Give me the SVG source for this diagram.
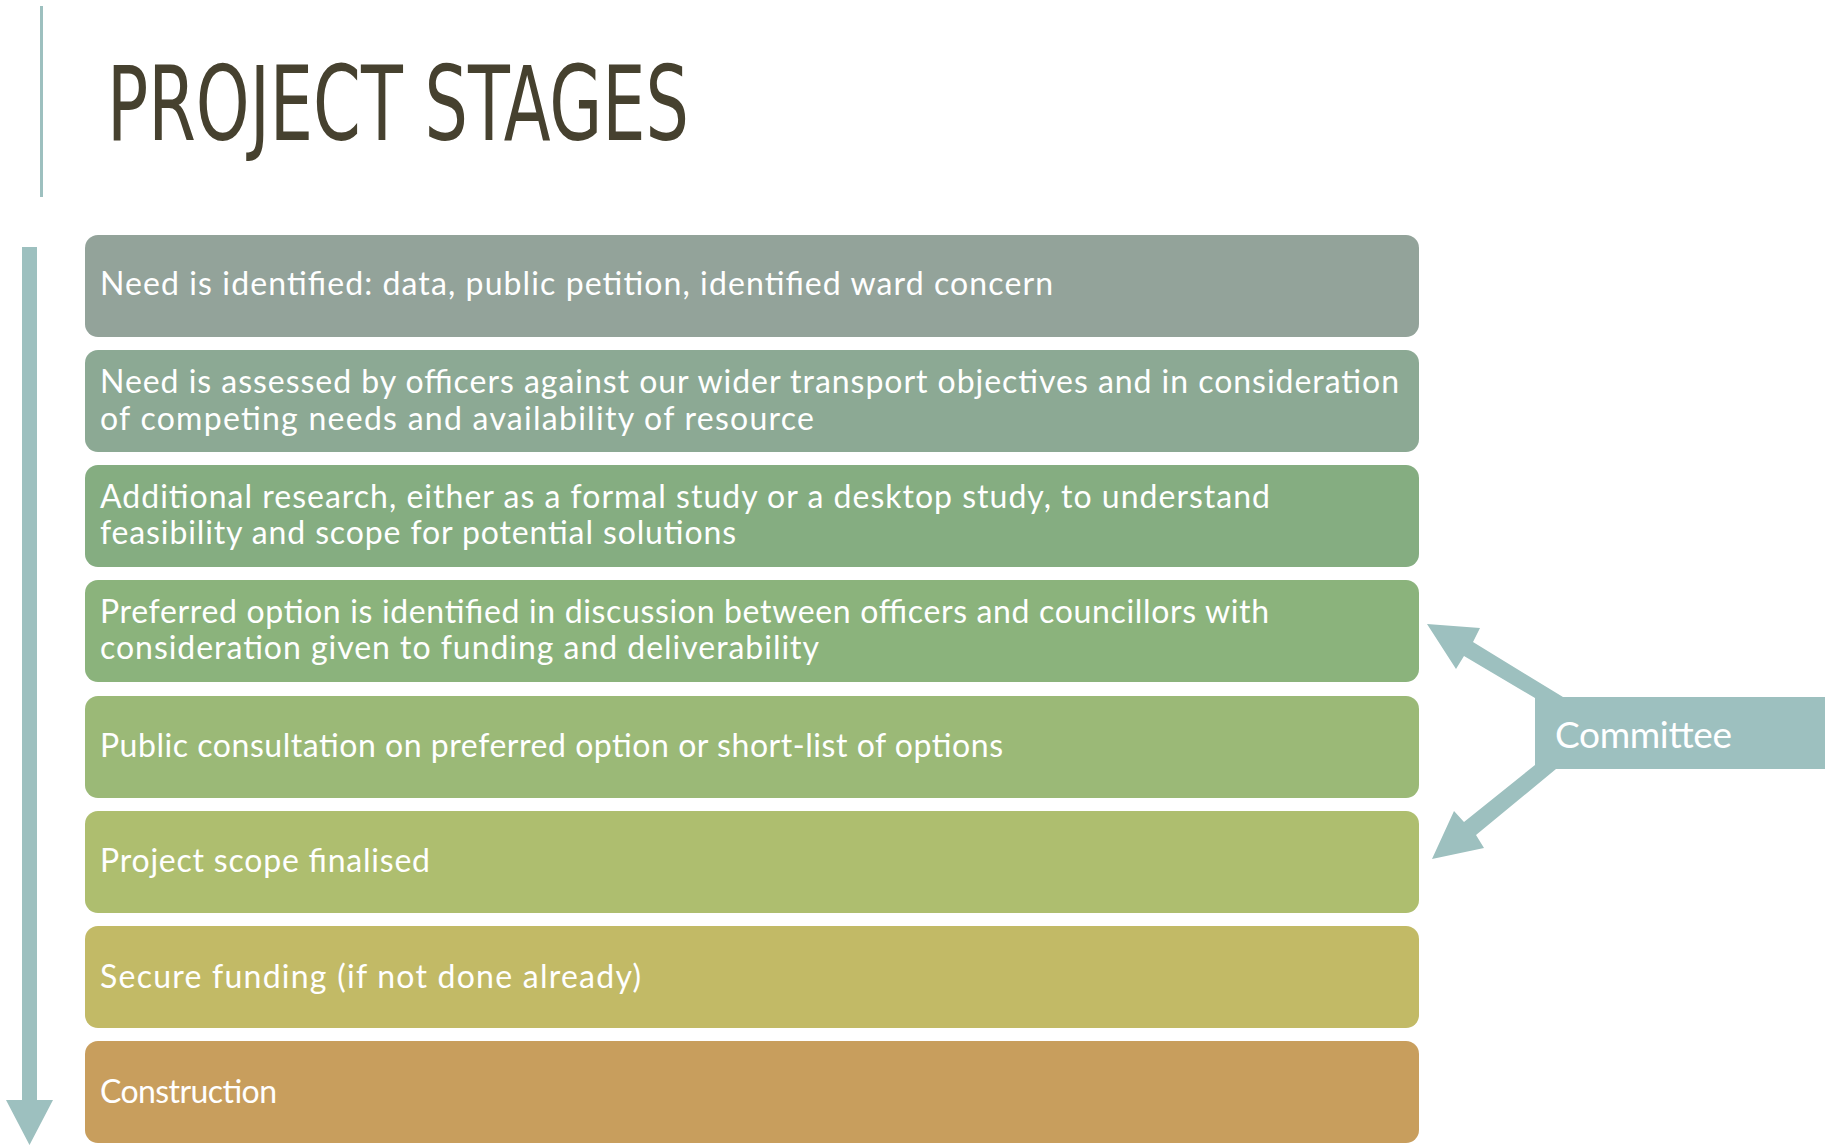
<svg xmlns="http://www.w3.org/2000/svg" width="1825" height="1145" viewBox="0 0 1825 1145">
<style>
.t{font-family:Lato,"Open Sans","Liberation Sans",sans-serif;font-size:32px;fill:#ffffff}
</style>
<rect width="1825" height="1145" fill="#ffffff"/>
<rect x="40" y="6" width="3" height="191" fill="#9DC0BF"/>
<text x="107" y="140" font-family="'DejaVu Sans Condensed','Liberation Sans Narrow','Liberation Sans',sans-serif" font-size="104" fill="#46412F" textLength="582" lengthAdjust="spacingAndGlyphs">PROJECT STAGES</text>
<g id="connectors">
<path d="M22,247 H37 V1100 H53 L29.5,1145 L6,1100 H22 Z" fill="#9DC0BF"/>
</g>
<g id="committee">
<polygon points="1563,697 1825,697 1825,769 1556,769 1476,835 1484,848 1432,859 1454,811 1464,822 1535,765 1535,698 1464,656 1456,669 1427,624 1480,628 1473,642" fill="#9DC0BF"/>
<text x="1555" y="748" font-family="Lato,'Open Sans','Liberation Sans',sans-serif" font-size="37" fill="#ffffff" textLength="177">Committee</text>
</g>
<g id="s1"><rect x="85" y="235" width="1334" height="102" rx="13" fill="#93A39A"/>
<text class="t" x="100" y="295" textLength="953">Need is identified: data, public petition, identified ward concern</text></g>
<g id="s2"><rect x="85" y="350" width="1334" height="102" rx="13" fill="#8CA994"/>
<text class="t" x="100" y="393" textLength="1299">Need is assessed by officers against our wider transport objectives and in consideration</text>
<text class="t" x="100" y="430" textLength="714">of competing needs and availability of resource</text></g>
<g id="s3"><rect x="85" y="465" width="1334" height="102" rx="13" fill="#85AD81"/>
<text class="t" x="100" y="508" textLength="1170">Additional research, either as a formal study or a desktop study, to understand</text>
<text class="t" x="100" y="544" textLength="636">feasibility and scope for potential solutions</text></g>
<g id="s4"><rect x="85" y="580" width="1334" height="102" rx="13" fill="#8BB37C"/>
<text class="t" x="100" y="623" textLength="1169">Preferred option is identified in discussion between officers and councillors with</text>
<text class="t" x="100" y="659" textLength="719">consideration given to funding and deliverability</text></g>
<g id="s5"><rect x="85" y="696" width="1334" height="102" rx="13" fill="#9BB977"/>
<text class="t" x="100" y="757" textLength="903">Public consultation on preferred option or short-list of options</text></g>
<g id="s6"><rect x="85" y="811" width="1334" height="102" rx="13" fill="#AEBE6F"/>
<text class="t" x="100" y="872" textLength="330">Project scope finalised</text></g>
<g id="s7"><rect x="85" y="926" width="1334" height="102" rx="13" fill="#C2BA66"/>
<text class="t" x="100" y="988" textLength="541">Secure funding (if not done already)</text></g>
<g id="s8"><rect x="85" y="1041" width="1334" height="102" rx="13" fill="#C89E5D"/>
<text class="t" x="100" y="1103" textLength="177">Construction</text></g>
</svg>
